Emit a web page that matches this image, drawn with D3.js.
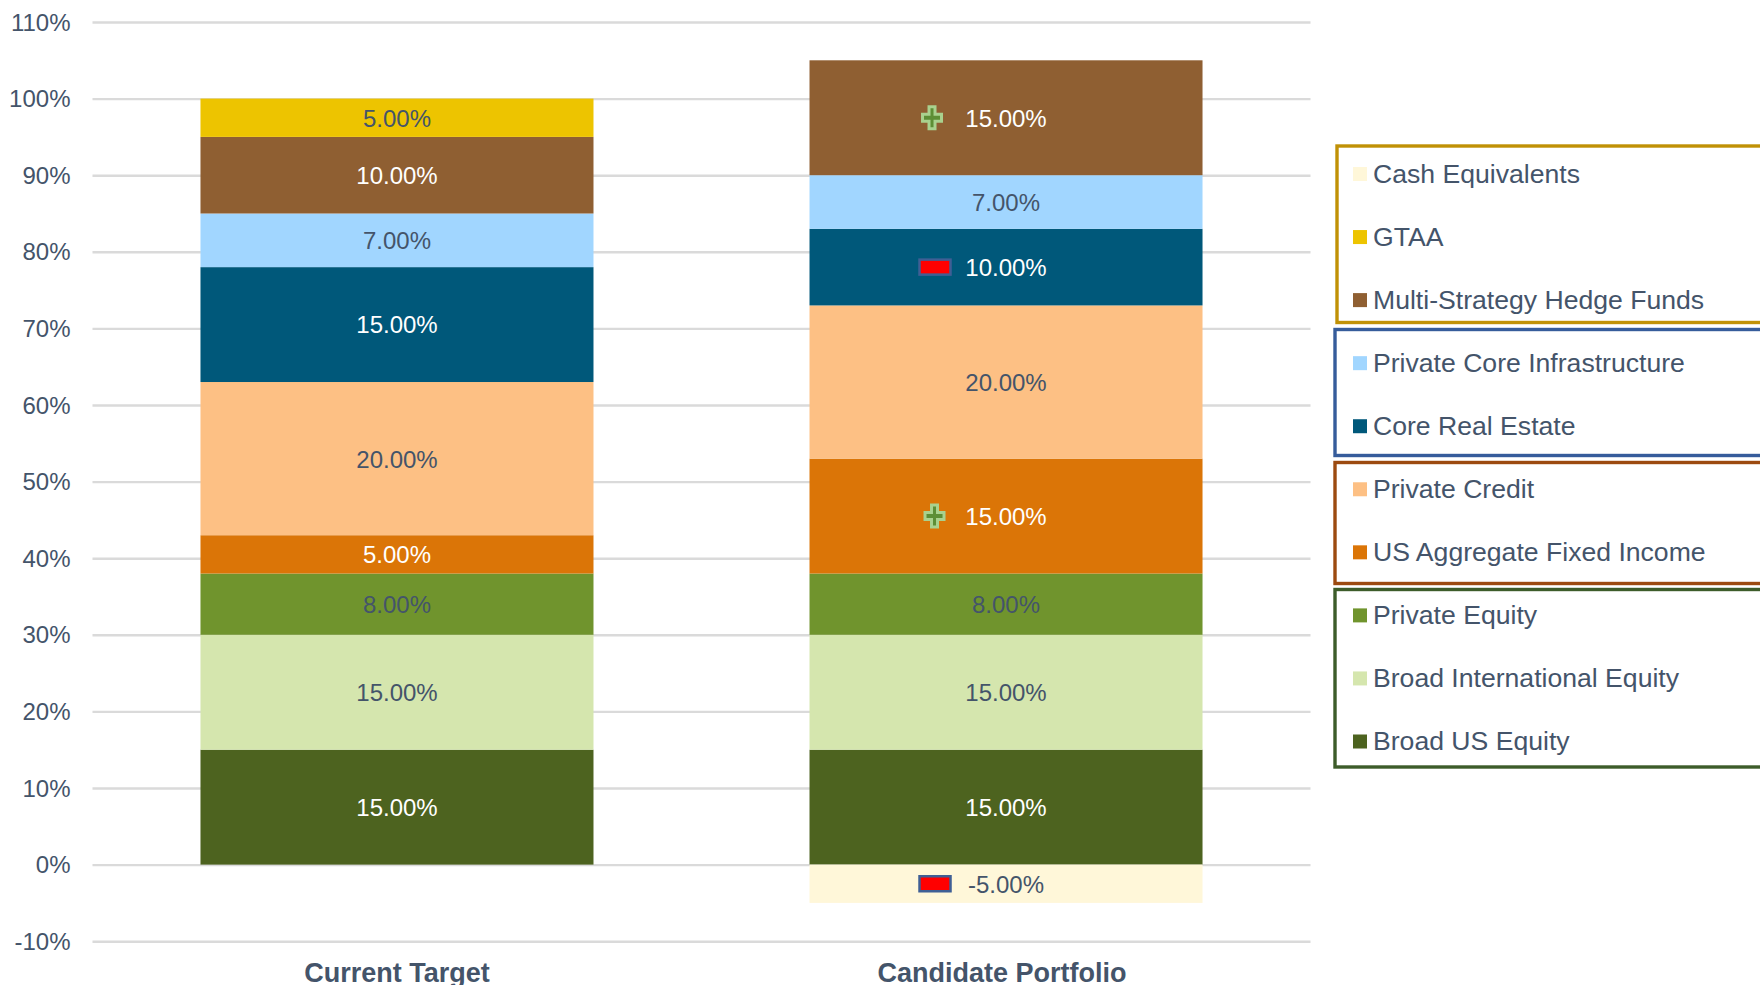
<!DOCTYPE html>
<html>
<head>
<meta charset="utf-8">
<script src="https://cdn.jsdelivr.net/npm/d3@7/dist/d3.min.js"></script>
<style>
html,body{margin:0;padding:0;background:#fff;overflow:hidden}
svg{display:block}
text{font-family:"Liberation Sans",Arial,sans-serif;fill:#44546A}
</style>
</head>
<body>
<svg id="chart" width="1760" height="985"></svg>
<script>
const categories = ["Current Target", "Candidate Portfolio"];
const seriesNames = ["Broad US Equity","Broad International Equity","Private Equity","US Aggregate Fixed Income","Private Credit","Core Real Estate","Private Core Infrastructure","Multi-Strategy Hedge Funds","GTAA","Cash Equivalents"];
const currentTarget = [15,15,8,5,20,15,7,10,5,0];
const candidatePortfolio = [15,15,8,15,20,10,7,15,0,-5];
const seriesColors = ["#4D631F","#D5E6AE","#70942D","#DB7507","#FDC084","#00587A","#A1D6FF","#8F5F32","#EDC400","#FFF7D9"];
const labelColors = ["#FFFFFF","#44546A","#44546A","#FFFFFF","#44546A","#FFFFFF","#44546A","#FFFFFF","#44546A","#44546A"];
const yTicks = [-10,0,10,20,30,40,50,60,70,80,90,100,110];
const legendOrder = ["Cash Equivalents","GTAA","Multi-Strategy Hedge Funds","Private Core Infrastructure","Core Real Estate","Private Credit","US Aggregate Fixed Income","Private Equity","Broad International Equity","Broad US Equity"];
const changeMarkers = [
  {series:"Multi-Strategy Hedge Funds", type:"plus"},
  {series:"Core Real Estate", type:"minus"},
  {series:"US Aggregate Fixed Income", type:"plus"},
  {series:"Cash Equivalents", type:"minus"}
];
const legendGroups = [
  {first:0, count:3, color:"#C09106"},
  {first:3, count:2, color:"#365C9B"},
  {first:5, count:2, color:"#9C4A10"},
  {first:7, count:3, color:"#3D5C2A"}
];

const svg = d3.select("#chart");
const y = d3.scaleLinear().domain([-10,110]).range([941.2,22]);
const x = d3.scaleBand().domain(categories).range([92.5,1310.5]).paddingInner(0.3547).paddingOuter(0.1773);

// y axis with gridlines
const yAxis = d3.axisLeft(y).tickValues(yTicks).tickSize(-1218).tickPadding(22).tickFormat(d=>d+"%");
const gy = svg.append("g").attr("transform","translate(92.5,0)").call(yAxis);
gy.select(".domain").remove();
gy.selectAll(".tick line").attr("stroke","#DADADA").attr("stroke-width",2.4);
gy.selectAll(".tick text").style("font-size","24px").attr("fill","#44546A").attr("dy","0.34em");

// x axis labels
const xAxis = d3.axisBottom(x).tickSize(0).tickPadding(0);
const gx = svg.append("g").attr("transform","translate(0,963)").call(xAxis);
gx.select(".domain").remove();
gx.selectAll(".tick text").style("font-size","27px").style("font-weight","700").attr("dy","0.72em")
  .attr("dx",(d,i)=>i===1?-4:0);

// stacked bars
const values = {[categories[0]]:currentTarget,[categories[1]]:candidatePortfolio};
const segments = [];
categories.forEach(cat=>{
  let pos=0;
  values[cat].forEach((v,i)=>{
    if(v===0) return;
    const y0 = v>0?pos:0, y1 = v>0?pos+v:v;
    if(v>0) pos+=v;
    segments.push({cat,i,v,y0,y1,name:seriesNames[i]});
  });
});
svg.append("g").selectAll("rect").data(segments).join("rect")
  .attr("x",d=>x(d.cat)).attr("width",x.bandwidth())
  .attr("y",d=>y(Math.max(d.y0,d.y1))).attr("height",d=>Math.abs(y(d.y0)-y(d.y1)))
  .attr("fill",d=>seriesColors[d.i]);

// data labels
svg.append("g").selectAll("text").data(segments).join("text")
  .attr("x",d=>x(d.cat)+x.bandwidth()/2)
  .attr("y",d=>y((d.y0+d.y1)/2))
  .attr("dy","0.37em").attr("text-anchor","middle")
  .style("font-size","24px").style("fill",d=>labelColors[d.i])
  .text(d=>d.v.toFixed(2)+"%");

// change markers on the candidate bar
const mid = x(categories[1])+x.bandwidth()/2;
changeMarkers.forEach(m=>{
  const seg = segments.find(s=>s.cat===categories[1]&&s.name===m.series);
  const cy = y((seg.y0+seg.y1)/2);
  if(m.type==="plus"){
    const cx = mid-(m.series.startsWith("Multi")?74:71.5);
    const g = svg.append("g").attr("transform",`translate(${cx},${cy})`);
    const p = "M-3,-11H3V-3.5H9.5V3.5H3V11H-3V3.5H-9.5V-3.5H-3Z";
    g.append("path").attr("d",p).attr("fill","#5D8E35").attr("stroke","#A9D18E").attr("stroke-width",3);
  } else {
    svg.append("rect").attr("x",mid-86.5).attr("y",cy-7.5).attr("width",31).attr("height",15)
      .attr("fill","#FF0000").attr("stroke","#3F5F95").attr("stroke-width",2.5);
  }
});

// legend boxes
legendGroups.forEach((g,gi)=>{
  const top = [146,329.5,462.5,589.5][gi], bottom=[322.5,455.5,583.5,767][gi], left=gi===0?1337:1335;
  svg.append("rect").attr("x",left).attr("y",top).attr("width",500).attr("height",bottom-top)
    .attr("fill","none").attr("stroke",g.color).attr("stroke-width",3.4);
});
// legend entries
const legendY = d3.scalePoint().domain(legendOrder).range([174,741.5]);
const legend = svg.append("g").selectAll("g").data(legendOrder).join("g")
  .attr("transform",d=>`translate(0,${legendY(d)})`);
legend.append("rect").attr("x",1353).attr("y",-7).attr("width",14).attr("height",14)
  .attr("fill",d=>seriesColors[seriesNames.indexOf(d)]);
legend.append("text").attr("x",1373).attr("dy","0.32em").style("font-size","26.6px").text(d=>d);
</script>
</body>
</html>
